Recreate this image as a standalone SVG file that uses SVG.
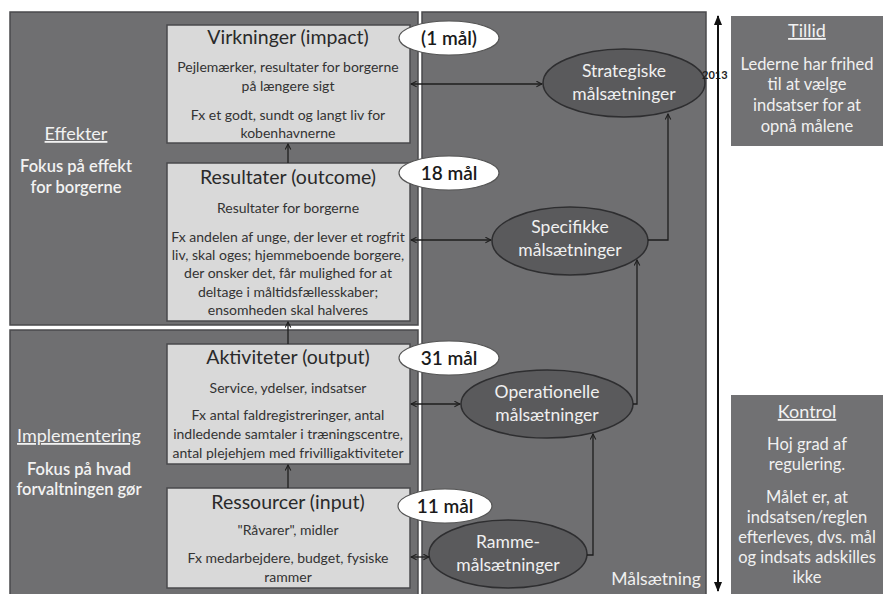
<svg xmlns="http://www.w3.org/2000/svg" width="883" height="594" viewBox="0 0 883 594">
<defs>
<style>
.panel{fill:#6f6f71;stroke:#4a4a4c;stroke-width:1.5}
.box{fill:#d9d9d9;stroke:#4a4a4c;stroke-width:1.5}
.oval{fill:#ffffff;stroke:#555;stroke-width:1.2}
.goal{fill:#5a5a5c;stroke:#2e2e30;stroke-width:1.5}
.side{fill:#717173}
text{font-family:Lato,"Open Sans","DejaVu Sans",sans-serif}
.t{font-size:19.5px;fill:#2a2a2a;text-anchor:middle}
.b{font-size:14px;fill:#333;text-anchor:middle}
.w{font-size:16.5px;fill:#f2f2f2;text-anchor:middle;font-weight:600}
.wh{font-size:18px;fill:#f2f2f2;text-anchor:middle;text-decoration:underline}
.wg{font-size:17.5px;fill:#f0f0f0;text-anchor:middle}
.ws{font-size:16.5px;fill:#f0f0f0;text-anchor:middle}
.ov{font-size:19px;fill:#1a1a1a;text-anchor:middle;font-weight:600}
.c{fill:none;stroke:#1e1e1e;stroke-width:1.3}
</style>
<marker id="ah" viewBox="0 0 10 10" refX="9" refY="5" markerWidth="7" markerHeight="7" orient="auto-start-reverse" markerUnits="userSpaceOnUse">
<path d="M1,1 L9,5 L1,9" fill="none" stroke="#1e1e1e" stroke-width="1.5"/>
</marker>
<marker id="tl" viewBox="0 0 10 10" refX="9" refY="5" markerWidth="10" markerHeight="10" orient="auto-start-reverse" markerUnits="userSpaceOnUse">
<path d="M0,1 L10,5 L0,9 Z" fill="#111"/>
</marker>
</defs>
<rect width="883" height="594" fill="#ffffff"/>

<g id="panel-effekter">
<rect class="panel" x="10" y="12" width="408" height="313"/>
<text class="wh" x="76" y="140">Effekter</text>
<text class="w" x="76" y="172">Fokus på effekt</text>
<text class="w" x="76" y="193">for borgerne</text>
</g>
<g id="panel-implementering">
<rect class="panel" x="10" y="330" width="408" height="270"/>
<text class="wh" x="79" y="442">Implementering</text>
<text class="w" x="79" y="475">Fokus på hvad</text>
<text class="w" x="79" y="495">forvaltningen gør</text>
</g>
<g id="panel-malsaetning">
<rect class="panel" x="422" y="12" width="284" height="588"/>
<text class="wg" x="656" y="585">Målsætning</text>
</g>

<g id="box-virkninger">
<rect class="box" x="167" y="25" width="243" height="118"/>
<text class="t" x="288" y="44">Virkninger (impact)</text>
<text class="b" x="288" y="72">Pejlemærker, resultater for borgerne</text>
<text class="b" x="288" y="91">på længere sigt</text>
<text class="b" x="288" y="120">Fx et godt, sundt og langt liv for</text>
<text class="b" x="288" y="138">kobenhavnerne</text>
</g>
<g id="box-resultater">
<rect class="box" x="167" y="163" width="243" height="158"/>
<text class="t" x="288" y="184">Resultater (outcome)</text>
<text class="b" x="288" y="213">Resultater for borgerne</text>
<text class="b" x="288" y="242">Fx andelen af unge, der lever et rogfrit</text>
<text class="b" x="288" y="260">liv, skal oges; hjemmeboende borgere,</text>
<text class="b" x="288" y="278">der onsker det, får mulighed for at</text>
<text class="b" x="288" y="297">deltage i måltidsfællesskaber;</text>
<text class="b" x="288" y="315">ensomheden skal halveres</text>
</g>
<g id="box-aktiviteter">
<rect class="box" x="167" y="344" width="243" height="120"/>
<text class="t" x="288" y="364">Aktiviteter (output)</text>
<text class="b" x="288" y="393">Service, ydelser, indsatser</text>
<text class="b" x="288" y="420">Fx antal faldregistreringer, antal</text>
<text class="b" x="288" y="439">indledende samtaler i træningscentre,</text>
<text class="b" x="288" y="458">antal plejehjem med frivilligaktiviteter</text>
</g>
<g id="box-ressourcer">
<rect class="box" x="167" y="488" width="243" height="100"/>
<text class="t" x="288" y="509">Ressourcer (input)</text>
<text class="b" x="288" y="535">"Råvarer", midler</text>
<text class="b" x="288" y="563">Fx medarbejdere, budget, fysiske</text>
<text class="b" x="288" y="582">rammer</text>
</g>

<g id="oval-1">
<ellipse class="oval" cx="449" cy="38" rx="50" ry="17"/>
<text class="ov" x="449" y="45">(1 mål)</text>
</g>
<g id="oval-18">
<ellipse class="oval" cx="449" cy="173" rx="50" ry="17"/>
<text class="ov" x="449" y="180">18 mål</text>
</g>
<g id="oval-31">
<ellipse class="oval" cx="449" cy="358" rx="50" ry="17"/>
<text class="ov" x="449" y="365">31 mål</text>
</g>
<g id="oval-11">
<ellipse class="oval" cx="445" cy="506" rx="47" ry="17"/>
<text class="ov" x="445" y="513">11 mål</text>
</g>

<g id="goal-strategiske">
<ellipse class="goal" cx="624" cy="83" rx="81" ry="34"/>
<text class="wg" x="624" y="77">Strategiske</text>
<text class="wg" x="624" y="100">målsætninger</text>
</g>
<g id="goal-specifikke">
<ellipse class="goal" cx="570" cy="241" rx="78" ry="34"/>
<text class="wg" x="570" y="233">Specifikke</text>
<text class="wg" x="570" y="256">målsætninger</text>
</g>
<g id="goal-operationelle">
<ellipse class="goal" cx="547" cy="404" rx="86" ry="34"/>
<text class="wg" x="547" y="398">Operationelle</text>
<text class="wg" x="547" y="421">målsætninger</text>
</g>
<g id="goal-ramme">
<ellipse class="goal" cx="508" cy="554" rx="79" ry="34"/>
<text class="wg" x="508" y="548">Ramme-</text>
<text class="wg" x="508" y="571">målsætninger</text>
</g>

<g id="side-tillid">
<rect class="side" x="731" y="16" width="152" height="130"/>
<text class="wh" x="807" y="37">Tillid</text>
<text class="ws" x="807" y="70">Lederne har frihed</text>
<text class="ws" x="807" y="90">til at vælge</text>
<text class="ws" x="807" y="111">indsatser for at</text>
<text class="ws" x="807" y="132">opnå målene</text>
</g>
<g id="side-kontrol">
<rect class="side" x="731" y="395" width="152" height="199"/>
<text class="wh" x="807" y="418">Kontrol</text>
<text class="ws" x="807" y="450">Hoj grad af</text>
<text class="ws" x="807" y="470">regulering.</text>
<text class="ws" x="807" y="503">Målet er, at</text>
<text class="ws" x="807" y="523">indsatsen/reglen</text>
<text class="ws" x="807" y="543">efterleves, dvs. mål</text>
<text class="ws" x="807" y="563">og indsats adskilles</text>
<text class="ws" x="807" y="583">ikke</text>
</g>

<g id="timeline">
<text x="702" y="79" style="font-size:11px;fill:#222;font-weight:700">2013</text>
<line x1="718" y1="591" x2="718" y2="16" stroke="#111" stroke-width="2" marker-start="url(#tl)" marker-end="url(#tl)"/>
</g>

<g id="connectors">
<line class="c" x1="288" y1="163" x2="288" y2="144" marker-end="url(#ah)"/>
<line class="c" x1="288" y1="344" x2="288" y2="322" marker-end="url(#ah)"/>
<line class="c" x1="288" y1="488" x2="288" y2="465" marker-end="url(#ah)"/>
<line class="c" x1="411" y1="84" x2="542" y2="84" marker-start="url(#ah)" marker-end="url(#ah)"/>
<line class="c" x1="411" y1="240" x2="491" y2="240" marker-start="url(#ah)" marker-end="url(#ah)"/>
<line class="c" x1="411" y1="404" x2="460" y2="404" marker-start="url(#ah)" marker-end="url(#ah)"/>
<line class="c" x1="411" y1="557" x2="429" y2="557" marker-start="url(#ah)" marker-end="url(#ah)"/>
<polyline class="c" points="587,555 593,555 593,434" marker-end="url(#ah)"/>
<polyline class="c" points="633,404 637,404 637,260" marker-end="url(#ah)"/>
<polyline class="c" points="648,240 668,240 668,114" marker-end="url(#ah)"/>
</g>
</svg>
